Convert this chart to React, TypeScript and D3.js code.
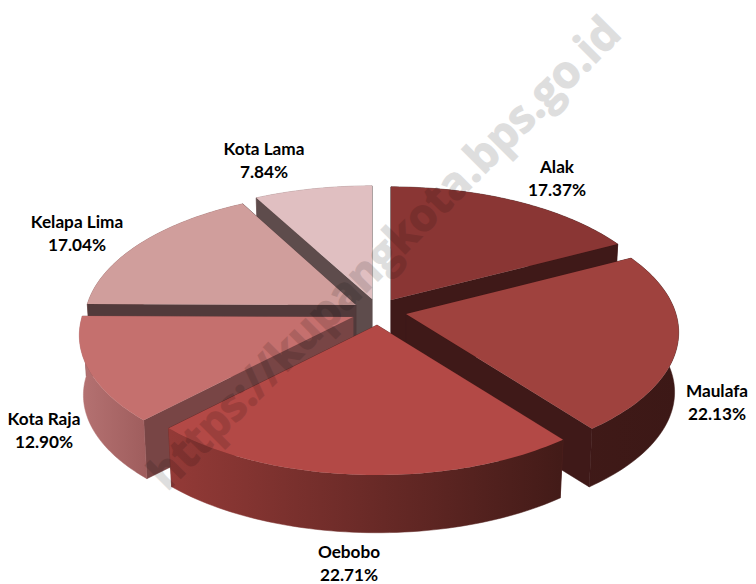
import React from "react";
import * as d3 from "d3";

const categories = ["Alak", "Maulafa", "Oebobo", "Kota Raja", "Kelapa Lima", "Kota Lama"];
const shares = [17.37, 22.13, 22.71, 12.9, 17.04, 7.84];
const topColors = ["#8a3634", "#9f423e", "#b34946", "#c5706e", "#d09e9c", "#e0bfc1"];
const wallColors = ["#3f1918", "#3f1918", "#5a2422", "#784545", "#523a3b", "#5e4c4c"];
const outerFrom = ["#4a1f1d", "#451c1a", "#933a37", "#b57272", "#9a6a68", "#a88a8b"];
const outerTo = ["#3f1918", "#3c1816", "#431b18", "#9e5c5c", "#9a6a68", "#a88a8b"];

// layout
const W = 756, H = 584;
const apexX = [391, 406, 377, 353, 356, 372];
const apexY = [300, 314, 325, 317, 305, 299];
const radiusX = [272, 270, 270, 271, 269, 275];
const RY = 129, K = 0.14, DEPTH = 60, BOTTOM_SCALE = 0.985;
const labelX = [557, 717, 349, 44, 77, 264];
const labelY = [168, 392, 553, 420, 223, 150];

const arcs = d3.pie<number>().sort(null).value((d) => d)(shares);

type P = [number, number];
function project(i: number, theta: number, r: number, bottom: boolean): P {
  const u = Math.sin(theta) * r, v = Math.cos(theta) * r;
  const s = 1 / (1 + K * v) * (bottom ? BOTTOM_SCALE : 1);
  return [apexX[i] + radiusX[i] * u * s, apexY[i] - RY * v * s + (bottom ? DEPTH : 0)];
}
const line = d3.line<P>().x((d) => d[0]).y((d) => d[1]);
const closed = (pts: P[]) => line(pts) + "Z";

type Face = { d: string; fill: string; key: string; depthY: number };

function sliceFaces(i: number): { faces: Face[]; top: string } {
  const a = arcs[i];
  const n = 60;
  const angles = d3.range(n + 1).map((k) => a.startAngle + ((a.endAngle - a.startAngle) * k) / n);
  const topArc = angles.map((t) => project(i, t, 1, false));
  const botArc = angles.map((t) => project(i, t, 1, true));
  const apexT = project(i, 0, 0, false), apexB = project(i, 0, 0, true);
  const meanY = (pts: P[]) => d3.mean(pts, (p) => p[1]) as number;
  const faces: Face[] = [
    {
      key: "o",
      d: closed([...topArc, ...botArc.slice().reverse()]),
      fill: `url(#outer${i})`,
      depthY: meanY(topArc),
    },
    {
      key: "s",
      d: closed([apexT, topArc[0], botArc[0], apexB]),
      fill: wallColors[i],
      depthY: meanY([apexT, topArc[0]]),
    },
    {
      key: "e",
      d: closed([apexT, topArc[n], botArc[n], apexB]),
      fill: wallColors[i],
      depthY: meanY([apexT, topArc[n]]),
    },
  ];
  faces.sort((p, q) => p.depthY - q.depthY);
  return { faces, top: closed([apexT, ...topArc]) };
}

const drawOrder = [5, 0, 4, 1, 3, 2];
const fontFamily = "Lato, 'Open Sans', sans-serif";

export default function App() {
  return (
    <svg
      width={W}
      height={H}
      viewBox={`0 0 ${W} ${H}`}
      style={{ position: "absolute", left: 0, top: 0, background: "#fff" }}
    >
      <defs>
        {categories.map((c, i) => (
          <linearGradient
            key={c}
            id={`outer${i}`}
            gradientUnits="userSpaceOnUse"
            x1={i === 2 ? 170 : i === 3 ? 80 : 400}
            x2={i === 2 ? 560 : i === 3 ? 150 : 680}
            y1={0}
            y2={0}
          >
            <stop offset="0" stopColor={outerFrom[i]} />
            <stop offset="1" stopColor={outerTo[i]} />
          </linearGradient>
        ))}
      </defs>
      {drawOrder.map((i) => {
        const { faces, top } = sliceFaces(i);
        return (
          <g key={categories[i]}>
            {faces.map((f) => (
              <path key={f.key} d={f.d} fill={f.fill} stroke={f.fill} strokeWidth={0.5} />
            ))}
            <path d={top} fill={topColors[i]} />
          </g>
        );
      })}
      <g opacity={0.125}>
        <text
          transform="translate(167,492) rotate(-45)"
          fontFamily="'Open Sans', sans-serif"
          fontWeight="bold"
          fontSize={45}
          textLength={645}
          lengthAdjust="spacingAndGlyphs"
          fill="#000"
          stroke="#000"
          strokeWidth={1.2}
        >
          https://kupangkota.bps.go.id
        </text>
      </g>
      {categories.map((c, i) => (
        <g key={c} fontFamily={fontFamily} fontWeight={700} fontSize={17.2} fill="#000" textAnchor="middle">
          <text x={labelX[i]} y={labelY[i] + 5}>{c}</text>
          <text x={labelX[i]} y={labelY[i] + 28}>{shares[i].toFixed(2)}%</text>
        </g>
      ))}
    </svg>
  );
}
